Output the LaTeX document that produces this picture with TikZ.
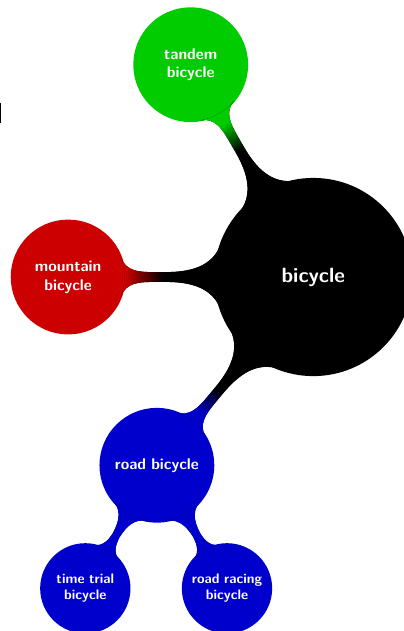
\documentclass[tikz,border=0pt]{standalone}
\usepackage{amsmath}
\usepackage{tikz}
\usepackage{xcolor}
\usetikzlibrary{mindmap}

\colorlet{tandemcol}{green!80!black}
\colorlet{mountaincol}{red!80!black}
\colorlet{roadcol}{blue!80!black}

% bar colour switches close to the child
\colorlet{barfrom}{black}
\colorlet{barto}{black}
\pgfdeclarehorizontalshading[barfrom,barto]{barswitch}{100bp}{color(0bp)=(barfrom); color(64bp)=(barfrom); color(74bp)=(barto); color(100bp)=(barto)}

\begin{document}
\begin{tikzpicture}[mindmap,
        every node/.style={concept, text=white, align=center},
        rootc/.style={minimum size=4cm, text width=3.5cm, font=\sffamily\bfseries\large},
        levelone/.style={minimum size=2.3cm, text width=2cm, font=\sffamily\bfseries\small},
        leveltwo/.style={minimum size=1.8cm, text width=1.5cm, font=\sffamily\bfseries\footnotesize}]
                \useasboundingbox (-6.39,-7.22) rectangle (1.84,5.65);

                \node[rootc, concept color=black] (bike) at (0,0) {bicycle};

                \node[levelone, concept color=tandemcol] (tandem) at (-2.5,4.33) {tandem bicycle};
                \node[levelone, concept color=mountaincol] (mountain) at (-5,0) {mountain bicycle};
                \node[levelone, concept color=roadcol] (road) at (-3.19,-3.84) {road bicycle};

                \node[leveltwo, concept color=roadcol] (trial) at (-4.65,-6.35) {time trial bicycle};
                \node[leveltwo, concept color=roadcol] (racing) at (-1.76,-6.35) {road racing bicycle};

                \foreach \a/\ca/\b/\cb/\ang in {bike/black/tandem/tandemcol/120, bike/black/mountain/mountaincol/180,
                        bike/black/road/roadcol/230, road/roadcol/trial/roadcol/240, road/roadcol/racing/roadcol/300}
                {
                    \colorlet{barfrom}{\ca}\colorlet{barto}{\cb}
                    \path[shade, shading=barswitch, shading angle=\ang] (\a) to[circle connection bar] (\b);
                }

                \draw[line width=0.7pt] (-6.38,3.55) -- (-6.38,3.14);
            \end{tikzpicture}
\end{document}
